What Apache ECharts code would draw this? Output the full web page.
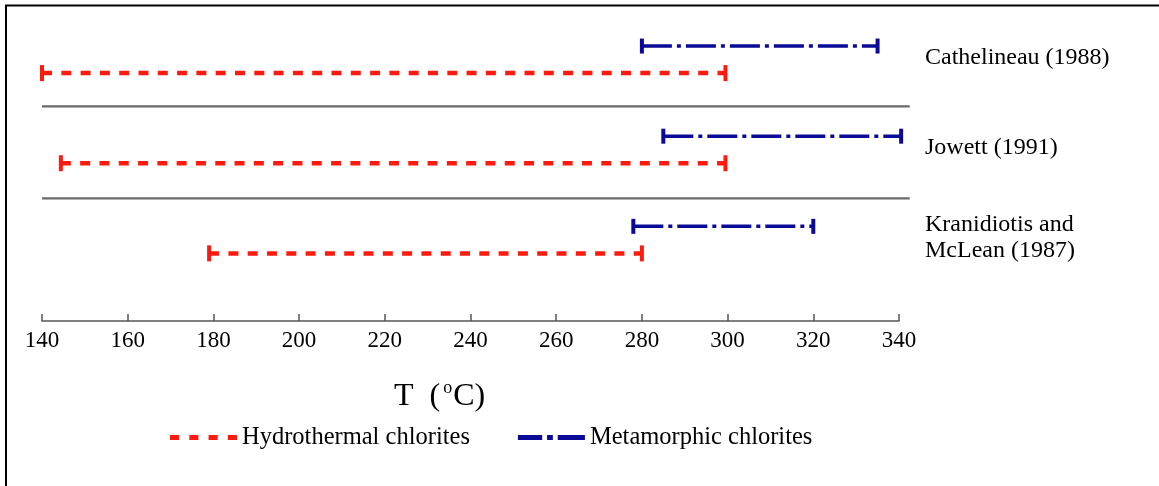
<!DOCTYPE html>
<html>
<head>
<meta charset="utf-8">
<script src="https://cdn.jsdelivr.net/npm/echarts@6/dist/echarts.min.js"></script>
<style>
html,body{margin:0;padding:0;background:#fff;}
#chart{width:1159px;height:486px;}
</style>
</head>
<body>
<div id="chart"></div>
<script>
// ---- data ----
const studies = ['Kranidiotis and\nMcLean (1987)', 'Jowett (1991)', 'Cathelineau (1988)'];
const rowCenters = [0.5, 1.5, 2.5];
const hydroMin = [179, 144.4, 140];
const hydroMax = [280, 299.5, 299.5];
const metaMin = [278, 285, 280];
const metaMax = [320, 340.5, 335];
const separatorRows = [0.96, 1.98];
const separatorSpan = [140, 342.5];
const xMin = 140, xMax = 340, xStep = 20;
const seriesNames = ['Hydrothermal chlorites', 'Metamorphic chlorites'];

const FONT = '"Liberation Serif", "Times New Roman", serif';
const RED = '#ff1a10';
const BLUE = '#0a0a96';

function rangeRenderer(color, width, dash, capW, capH) {
  return function (params, api) {
    const y = api.value(2);
    const p0 = api.coord([api.value(0), y]);
    const p1 = api.coord([api.value(1), y]);
    return {
      type: 'group',
      children: [
        { type: 'line', shape: { x1: p0[0], y1: p0[1], x2: p1[0], y2: p1[1] },
          style: { stroke: color, lineWidth: width, lineDash: dash, lineCap: 'butt' } },
        { type: 'rect', shape: { x: p0[0] - capW / 2, y: p0[1] - capH / 2, width: capW, height: capH },
          style: { fill: color } },
        { type: 'rect', shape: { x: p1[0] - capW / 2, y: p1[1] - capH / 2, width: capW, height: capH },
          style: { fill: color } }
      ]
    };
  };
}

const hydroData = studies.map((s, i) => [hydroMin[i], hydroMax[i], rowCenters[i] - 0.15]);
const metaData = studies.map((s, i) => [metaMin[i], metaMax[i], rowCenters[i] + 0.15]);
const sepData = separatorRows.map(r => [separatorSpan[0], separatorSpan[1], r]);
const labelData = studies.map((s, i) => [xMax, rowCenters[i], s]);

const chart = echarts.init(document.getElementById('chart'), null, { renderer: 'canvas' });
chart.setOption({
  animation: false,
  backgroundColor: '#fff',
  grid: { left: 42, right: 260, top: 19, bottom: 165, containLabel: false },
  title: {
    text: '{a|T  (}{s|o}{a|C)}',
    left: 394, top: 379, padding: 0,
    textStyle: {
      fontWeight: 'normal',
      rich: {
        a: { fontSize: 32, fontFamily: FONT, fontWeight: 'normal', color: '#000', lineHeight: 36 },
        s: { fontSize: 18, fontFamily: FONT, fontWeight: 'normal', color: '#000', verticalAlign: 'top', lineHeight: 36, padding: [0, 1, 0, 3] }
      }
    }
  },
  legend: {
    data: [
      { name: seriesNames[0], icon: 'path://M0,0h9v5h-9z M19,0h9v5h-9z M38,0h9v5h-9z M57,0h9v5h-9z' },
      { name: seriesNames[1], icon: 'path://M0,0h25v5h-25z M30,0h6v5h-6z M41,0h28v5h-28z' }
    ],
    left: 170, top: 425, padding: 0,
    itemWidth: 67, itemHeight: 5, itemGap: 48,
    symbolKeepAspect: false,
    selectedMode: false,
    textStyle: { fontFamily: FONT, fontSize: 24.5, color: '#000' }
  },
  xAxis: {
    type: 'value', min: xMin, max: xMax, interval: xStep,
    axisLine: { onZero: false, lineStyle: { color: '#555', width: 1.5 } },
    axisTick: { inside: true, length: 7, lineStyle: { color: '#555', width: 1.5 } },
    axisLabel: { fontFamily: FONT, fontSize: 23, color: '#000', margin: 8 },
    splitLine: { show: false }
  },
  yAxis: {
    type: 'value', min: -0.4, max: 2.95, show: false, splitLine: { show: false }
  },
  series: [
    {
      name: 'separators', type: 'custom', clip: false, silent: true,
      renderItem: function (params, api) {
        const y = api.value(2);
        const p0 = api.coord([api.value(0), y]);
        const p1 = api.coord([api.value(1), y]);
        return { type: 'line', shape: { x1: p0[0], y1: p0[1], x2: p1[0], y2: p1[1] },
                 style: { stroke: '#6a6a6a', lineWidth: 2.3 } };
      },
      data: sepData
    },
    {
      name: seriesNames[0], type: 'custom', clip: false,
      itemStyle: { color: RED },
      renderItem: rangeRenderer(RED, 4.5, [10, 9.3], 4, 16),
      data: hydroData
    },
    {
      name: seriesNames[1], type: 'custom', clip: false,
      itemStyle: { color: BLUE },
      renderItem: rangeRenderer(BLUE, 3.5, [30, 5, 4, 5], 4, 15),
      data: metaData
    },
    {
      name: 'labels', type: 'custom', clip: false, silent: true,
      renderItem: function (params, api) {
        const p = api.coord([api.value(0), api.value(1)]);
        return { type: 'text', x: p[0] + 26, y: p[1] - 2,
                 style: { text: studies[params.dataIndex], fontFamily: FONT, fontSize: 24, fill: '#000',
                          lineHeight: 26, verticalAlign: 'middle', align: 'left' } };
      },
      data: labelData
    }
  ],
  graphic: [
    { type: 'rect', silent: true, shape: { x: 6, y: 5.5, width: 1300, height: 700 },
      style: { fill: 'none', stroke: '#000', lineWidth: 2 } }
  ]
});
</script>
</body>
</html>
